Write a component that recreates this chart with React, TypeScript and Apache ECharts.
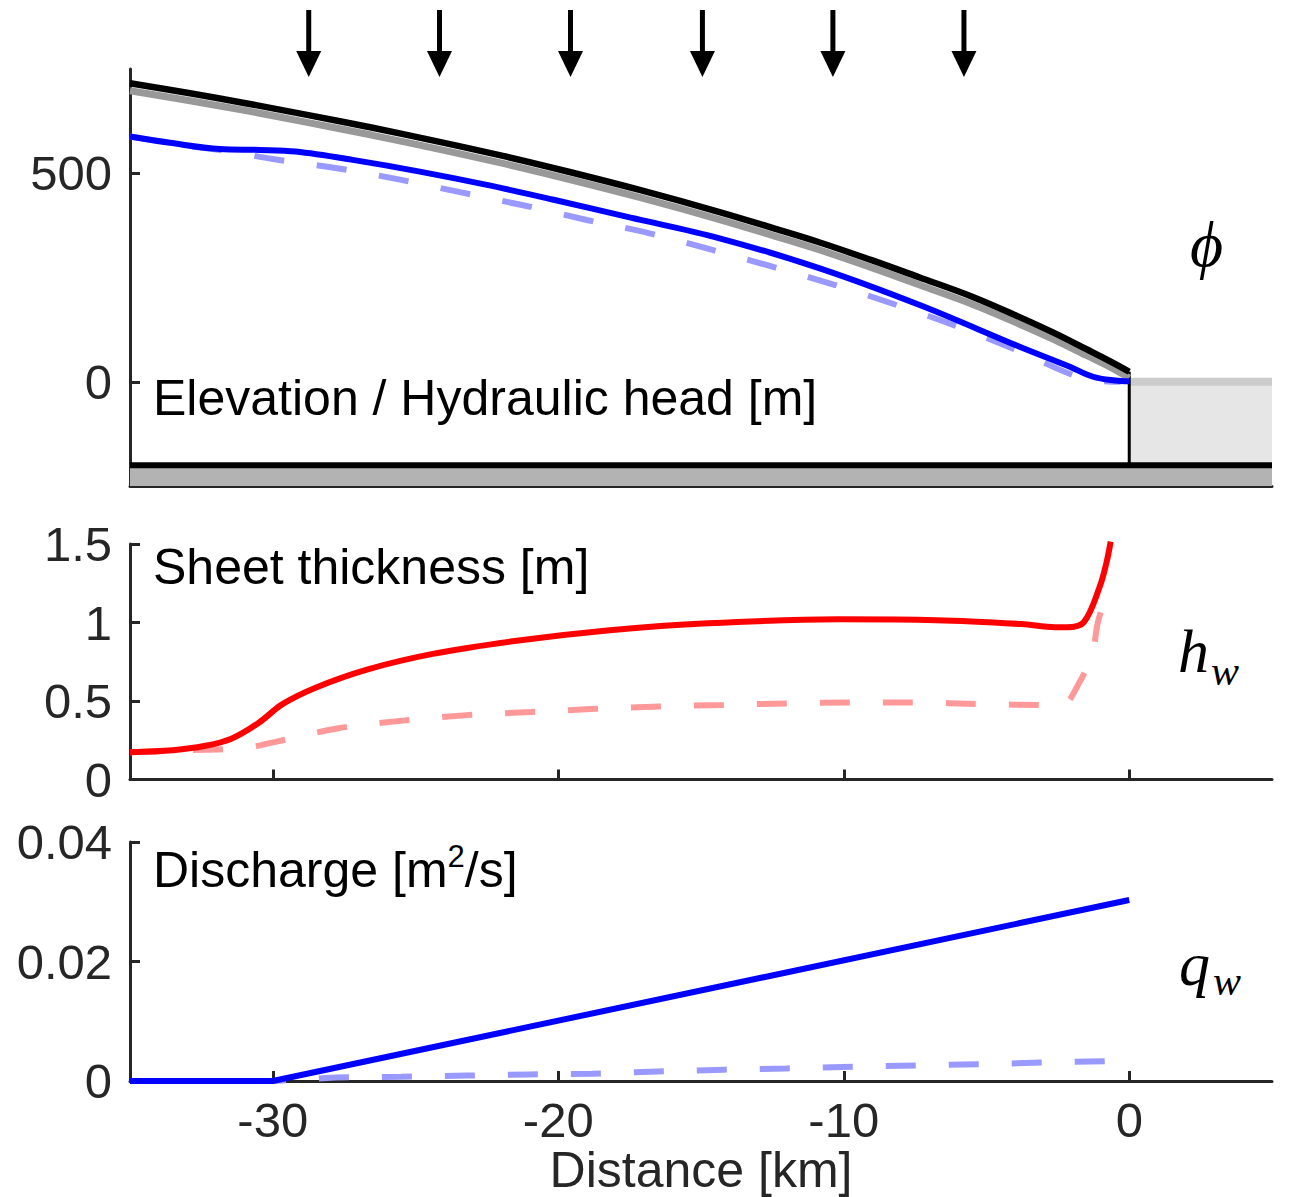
import React, { useEffect, useRef } from "react";
import * as echarts from "echarts";

// ---------- data ----------
const distanceTicks = [-30, -20, -10, 0];
const arrowKm = [-28.74, -24.16, -19.57, -14.95, -10.38, -5.79];

// top panel: ice surface (black), earlier surface (grey)
const surfX = [-35, -33, -31, -28.8, -26.5, -24.2, -21.9, -19.6, -17.15, -14.35, -12.5, -10.84, -9, -7.34, -5.5, -3.84, -2.6, -1.5, -0.7, 0];
const surfElev = [716, 693, 668.6, 640, 609, 576, 541, 503, 460, 407, 369, 334, 291, 250, 204, 155, 116, 78, 50, 24];
const surfGreyElev = [698, 675, 651, 622, 591, 558, 523, 485, 442, 389, 351, 316, 273, 232, 186, 138, 100, 63, 36, 9];

// hydraulic head
const headX = [-35, -33.6, -31.85, -30.45, -29.2, -27.2, -24.85, -22.5, -20.2, -17.5, -14.35, -10.84, -7.34, -3.84, -2.08, -1.27, -0.5, 0];
const headElev = [588, 573, 558, 556, 552, 532, 504, 472, 437, 394, 344, 272, 184, 84, 36, 12, 3, 1];
const headDashX = [-35, -33, -31.5, -30, -27.75, -25.5, -23.4, -21.15, -19.0, -16.8, -14.6, -12.5, -10.3, -8.15, -6.0, -3.95, -1.97, -1.0, -0.3];
const headDashElev = [588, 566, 552, 534, 512, 484, 454, 422, 388, 356, 316, 276, 232, 184, 132, 76, 16, 2, 0];

// bed / sea
const bedElev = -200;
const seaLevel = 0;
const xMin = -35;
const xMax = 5;

// sheet thickness
const sheetX = [-35, -33.5, -32.4, -31.45, -30.5, -29.66, -28.5, -26.7, -24.4, -21.6, -18.2, -14.76, -10.2, -6.75, -3.78, -2.6, -2.2, -1.6, -1.03, -0.8, -0.65];
const sheetH = [0.174, 0.187, 0.213, 0.26, 0.36, 0.48, 0.585, 0.70, 0.80, 0.88, 0.95, 0.995, 1.02, 1.015, 0.99, 0.97, 0.97, 1.0, 1.23, 1.38, 1.515];
const sheetDashX = [-35, -32.4, -31, -29.9, -27.75, -25.45, -23.2, -20.95, -18.7, -16.45, -14.2, -11.95, -9.7, -7.4, -5.2, -2.9, -2.3, -1.8, -1.3, -1.1, -0.77];
const sheetDashH = [0.174, 0.19, 0.2, 0.24, 0.325, 0.375, 0.41, 0.43, 0.45, 0.465, 0.475, 0.485, 0.49, 0.49, 0.48, 0.475, 0.48, 0.6, 0.8, 1.0, 1.2];

// discharge
const qX = [-35, -30, 0];
const qVal = [0, 0, 0.0303];
const qDashX = [-35, -30, -28.5, -27.8, -25.5, -23.2, -21, -18.8, -16.5, -14.2, -12, -9.7, -7.45, -5.2, -2.95, -0.15];
const qDashVal = [0, 0, 0.0004, 0.0006, 0.0007, 0.0009, 0.0011, 0.0012, 0.0016, 0.0019, 0.0021, 0.0024, 0.0026, 0.0028, 0.0031, 0.0034];

// ---------- helpers ----------
const zip = (xs: number[], ys: number[]) => xs.map((x, i) => [x, ys[i]]);
const FONT = "'Liberation Sans', Arial, Helvetica, sans-serif";
const MATH = "'Liberation Serif', 'DejaVu Serif', 'Times New Roman', serif";
const AX = "#262626";
const DASH = [30, 33];

export default function App() {
  const ref = useRef<HTMLDivElement>(null);

  useEffect(() => {
    if (!ref.current) return;
    const chart = echarts.init(ref.current, null, { renderer: "svg" });

    const grids = [
      { left: 130, right: 21, top: 69, height: 417 },
      { left: 130, right: 21, top: 544, height: 235.5 },
      { left: 130, right: 21, top: 842, height: 239 },
    ];

    const xAxis = [0, 1, 2].map((i) => ({
      type: "value",
      gridIndex: i,
      min: xMin,
      max: xMax,
      axisLine: { show: true, onZero: false, lineStyle: { color: AX, width: 3 } },
      axisTick: { show: true, inside: true, length: 10, customValues: distanceTicks, lineStyle: { color: AX, width: 3 } },
      axisLabel: {
        show: i === 2,
        customValues: distanceTicks,
        color: AX,
        fontSize: 49,
        fontFamily: FONT,
        margin: 14,
      },
      splitLine: { show: false },
      name: i === 2 ? "Distance [km]" : "",
      nameLocation: "middle",
      nameGap: 62,
      nameTextStyle: { color: AX, fontSize: 50, fontFamily: FONT },
    }));

    const yBase = {
      type: "value",
      axisLine: { show: true, onZero: false, lineStyle: { color: AX, width: 3 } },
      splitLine: { show: false },
    };
    const yLab = { color: AX, fontSize: 49, fontFamily: FONT, margin: 18 };
    const yTick = { show: true, inside: true, length: 10, lineStyle: { color: AX, width: 3 } };

    const yAxis = [
      {
        ...yBase,
        gridIndex: 0,
        min: -250,
        max: 750,
        axisTick: { ...yTick, customValues: [0, 500] },
        axisLabel: { ...yLab, customValues: [0, 500] },
      },
      { ...yBase, gridIndex: 1, min: 0, max: 1.5, interval: 0.5, axisTick: yTick, axisLabel: yLab },
      { ...yBase, gridIndex: 2, min: 0, max: 0.04, interval: 0.02, axisTick: yTick, axisLabel: yLab },
    ];

    const lineS = (idx: number, data: number[][], color: string, width: number, extra: any = {}) => {
      const { lineStyle, ...rest } = extra;
      return {
        type: "line",
        xAxisIndex: idx,
        yAxisIndex: idx,
        data,
        symbol: "none",
        silent: true,
        ...rest,
        lineStyle: { color, width, ...(lineStyle || {}) },
      };
    };

    const SM = 0.35;
    const series: any[] = [
      // sea
      lineS(0, [[0, seaLevel], [xMax, seaLevel]], "#cccccc", 8, {
        markArea: {
          silent: true,
          itemStyle: { color: "#e6e6e6" },
          data: [[{ coord: [0, bedElev] }, { coord: [xMax, seaLevel] }]],
        },
      }),
      // bed
      lineS(0, [[xMin, bedElev], [xMax, bedElev]], "#000000", 6, {
        areaStyle: { color: "#b3b3b3", opacity: 1, origin: "start" },
      }),
      // ice front
      lineS(0, [[0, bedElev], [0, surfElev[surfElev.length - 1]]], "#000000", 3),
      // grey surface
      lineS(0, zip(surfX, surfGreyElev), "#999999", 7, { smooth: SM }),
      // head dashed
      lineS(0, zip(headDashX, headDashElev), "#9999ff", 6, { smooth: SM, lineStyle: { type: DASH } }),
      // head solid
      lineS(0, zip(headX, headElev), "#0000ff", 6, { smooth: SM }),
      // black surface
      lineS(0, zip(surfX, surfElev), "#000000", 6.5, { smooth: SM }),
      // sheet thickness
      lineS(1, zip(sheetDashX, sheetDashH), "#ff9999", 6, { smooth: SM, lineStyle: { type: DASH } }),
      lineS(1, zip(sheetX, sheetH), "#ff0000", 6, { smooth: SM, clip: false }),
      // discharge
      lineS(2, zip(qDashX, qDashVal), "#9999ff", 6, { lineStyle: { type: DASH } }),
      lineS(2, zip(qX, qVal), "#0000ff", 6),
    ];

    chart.setOption({
      animation: false,
      backgroundColor: "#ffffff",
      grid: grids,
      xAxis,
      yAxis,
      series,
    });

    const arrows = arrowKm.map((km) => {
      const px = chart.convertToPixel({ xAxisIndex: 0 }, km) as number;
      return {
        type: "group",
        children: [
          { type: "rect", shape: { x: px - 2.5, y: 10, width: 5, height: 44 }, style: { fill: "#000" } },
          {
            type: "polygon",
            shape: { points: [[px - 12.5, 51], [px + 12.5, 51], [px, 77]] },
            style: { fill: "#000" },
          },
        ],
      };
    });

    const txt = (x: number, y: number, text: string, size: number, family: string, italic = false) => ({
      type: "text",
      x,
      y,
      silent: true,
      style: {
        text,
        fontSize: size,
        fontFamily: family,
        fontStyle: italic ? "italic" : "normal",
        fill: "#000",
        align: "left",
        verticalAlign: "middle",
      },
    });

    chart.setOption({
      graphic: [
        ...arrows,
        txt(153, 398, "Elevation / Hydraulic head [m]", 50, FONT),
        txt(153, 567, "Sheet thickness [m]", 50, FONT),
        {
          type: "text",
          x: 153,
          y: 870,
          silent: true,
          style: {
            text: "{a|Discharge [m}{s|2}{a|/s]}",
            align: "left",
            verticalAlign: "middle",
            rich: {
              a: { fontSize: 50, fontFamily: FONT, fill: "#000", lineHeight: 58 },
              s: { fontSize: 31, fontFamily: FONT, fill: "#000", verticalAlign: "top", lineHeight: 34 },
            },
          },
        },
        txt(1190, 244, "ϕ", 64, MATH, true),
        txt(1178, 651, "h", 62, MATH, true),
        txt(1211, 671, "w", 42, MATH, true),
        txt(1179, 964, "q", 62, MATH, true),
        txt(1213, 981, "w", 42, MATH, true),
      ],
    });

    return () => chart.dispose();
  }, []);

  return (
    <div
      ref={ref}
      style={{ position: "fixed", left: 0, top: 0, width: 1293, height: 1197, background: "#fff" }}
    />
  );
}
